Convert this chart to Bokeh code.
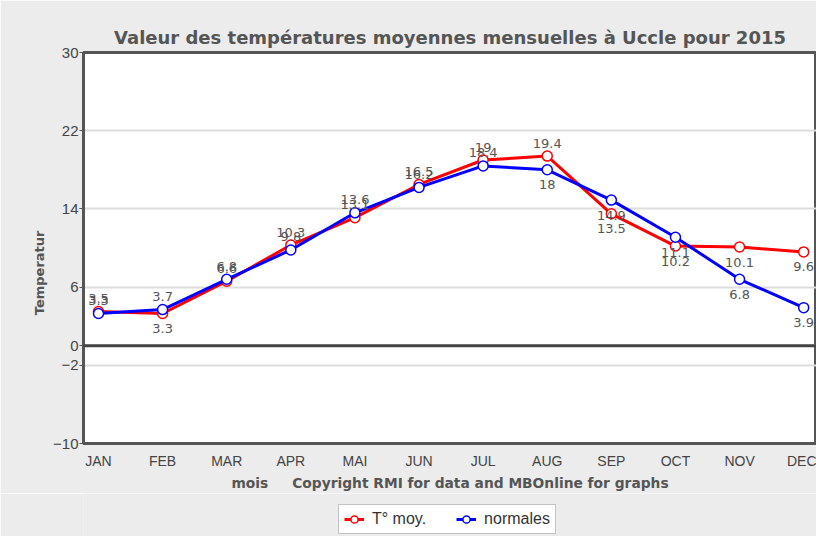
import math
from bokeh.plotting import figure
from bokeh.layouts import column
from bokeh.models import (ColumnDataSource, FixedTicker, Span, Legend, LegendItem,
                          Range1d)
from bokeh.embed import file_html
from bokeh.resources import INLINE
from bokeh.core.properties import value

# ---- data ----
months = ["JAN", "FEB", "MAR", "APR", "MAI", "JUN", "JUL", "AUG", "SEP", "OCT", "NOV", "DEC"]
t_moy = [3.5, 3.3, 6.6, 10.3, 13.1, 16.5, 19.0, 19.4, 13.5, 10.2, 10.1, 9.6]
normales = [3.3, 3.7, 6.8, 9.8, 13.6, 16.2, 18.4, 18.0, 14.9, 11.1, 6.8, 3.9]
y_ticks = [-10, -2, 0, 6, 14, 22, 30]

# label placement (style): above / below each point
red_place = ["above", "below", "above", "above", "above", "above", "above", "above",
             "below", "below", "below", "below"]
blue_place = ["above", "above", "above", "above", "above", "above", "above", "below",
              "below", "below", "below", "below"]

xs = list(range(len(months)))
OFF = {"above": -13, "below": 15}
BG = "#ececec"


def src(vals, place):
    return ColumnDataSource(dict(
        x=xs, y=vals,
        txt=[f"{v:g}" for v in vals],
        dy=[OFF[p] for p in place],
    ))


red_src = src(t_moy, red_place)
blue_src = src(normales, blue_place)

p = figure(frame_width=733, frame_height=391, output_backend="svg", toolbar_location=None,
           x_range=Range1d(-0.234, 11.2), y_range=Range1d(-10, 30),
           min_border_left=83, min_border_right=0, min_border_top=52, min_border_bottom=50)

p.background_fill_color = "white"
p.border_fill_color = BG
p.outline_line_color = "#555555"
p.outline_line_width = 3

# title
p.title.text = "Valeur des températures moyennes mensuelles à Uccle pour 2015"
p.title.align = "center"
p.title.text_font = "DejaVu Sans"
p.title.text_font_style = "bold"
p.title.text_font_size = "18px"
p.title.text_color = "#555555"
p.title.padding = (0, 0, 8, 0)

# axes
yax = p.yaxis[0]
yax.ticker = FixedTicker(ticks=y_ticks)
yax.axis_line_color = "#555555"
yax.axis_line_width = 3
yax.major_tick_line_color = "#555555"
yax.major_tick_out = 4
yax.major_tick_in = 0
yax.minor_tick_line_color = None
yax.major_label_text_font = "Liberation Sans"
yax.major_label_text_font_size = "15px"
yax.major_label_text_color = "#444444"
yax.major_label_standoff = 1
yax.axis_label = "Temperatur" + "\u00a0" * 11
yax.axis_label_text_font = "DejaVu Sans"
yax.axis_label_text_font_style = "bold"
yax.axis_label_text_font_size = "13px"
yax.axis_label_text_color = "#555555"
yax.axis_label_standoff = 3

xax = p.xaxis[0]
xax.ticker = FixedTicker(ticks=xs)
xax.major_label_overrides = {i: m for i, m in enumerate(months)}
xax.axis_line_color = "#555555"
xax.axis_line_width = 3
xax.major_tick_line_color = None
xax.minor_tick_line_color = None
xax.major_label_text_font = "Liberation Sans"
xax.major_label_text_font_size = "14px"
xax.major_label_text_color = "#444444"
xax.major_label_standoff = 3
xax.axis_label = "mois\u00a0\u00a0\u00a0\u00a0\u00a0Copyright RMI for data and MBOnline for graphs"
xax.axis_label_text_font = "DejaVu Sans"
xax.axis_label_text_font_style = "bold"
xax.axis_label_text_font_size = "13.8px"
xax.axis_label_text_color = "#555555"
xax.axis_label_standoff = 3

# grid
p.xgrid.grid_line_color = None
p.ygrid.ticker = FixedTicker(ticks=y_ticks)
p.ygrid.grid_line_color = "#dddddd"
p.ygrid.grid_line_width = 2

p.add_layout(Span(location=0, dimension="width", line_color="#444444", line_width=3))

# series
r_line = p.line("x", "y", source=red_src, line_color="#ff0000", line_width=3)
r_pts = p.scatter("x", "y", source=red_src, size=10, marker="circle",
                  fill_color="white", line_color="#ff0000", line_width=1.5)
b_line = p.line("x", "y", source=blue_src, line_color="#0000ff", line_width=3)
b_pts = p.scatter("x", "y", source=blue_src, size=10, marker="circle",
                  fill_color="white", line_color="#0000ff", line_width=1.5)

for s in (red_src, blue_src):
    p.text("x", "y", text="txt", source=s, y_offset="dy", text_align="center",
           text_baseline="middle", text_font=value("DejaVu Sans"),
           text_font_size="13px", text_color="#555555")

# ---- legend strip below the chart (same series, legend only) ----
lf = figure(frame_width=733, frame_height=43, output_backend="svg", toolbar_location=None,
            x_axis_type=None, y_axis_type=None,
            x_range=Range1d(100, 101), y_range=Range1d(100, 101),
            min_border_left=83, min_border_right=0, min_border_top=0, min_border_bottom=0)
lf.background_fill_color = BG
lf.border_fill_color = BG
lf.outline_line_color = None
lr_line = lf.line("x", "y", source=red_src, line_color="#ff0000", line_width=3)
lr_pts = lf.scatter("x", "y", source=red_src, size=10, marker="circle",
                    fill_color="white", line_color="#ff0000", line_width=1.5)
lb_line = lf.line("x", "y", source=blue_src, line_color="#0000ff", line_width=3)
lb_pts = lf.scatter("x", "y", source=blue_src, size=10, marker="circle",
                    fill_color="white", line_color="#0000ff", line_width=1.5)

legend = Legend(items=[LegendItem(label="T° moy.", renderers=[lr_line, lr_pts]),
                       LegendItem(label="normales", renderers=[lb_line, lb_pts])],
                orientation="horizontal", location=(255, 2),
                label_text_font="Liberation Sans", label_text_font_size="16px",
                label_text_color="#333333", border_line_color="#888888",
                border_line_width=1, background_fill_color="white",
                background_fill_alpha=1, glyph_width=20, glyph_height=18,
                label_standoff=8, spacing=30, label_height=18,
                padding=5, margin=0)
lf.add_layout(legend, "center")

layout = column(p, lf, spacing=0)
html = file_html(layout, INLINE)
html = html.replace("<body>", '<body style="background:#ececec">', 1)
open("out.html", "w").write(html)
